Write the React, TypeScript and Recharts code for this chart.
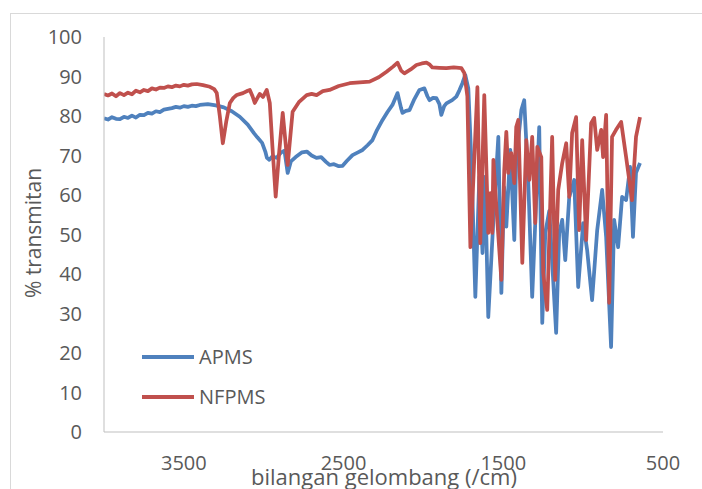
import React from "react";
import { LineChart, Line, XAxis, YAxis } from "recharts";

// wavenumber (cm-1) and % transmittance
const apmsWave = [
  4000, 3975, 3950, 3925, 3900, 3875, 3850, 3825, 3800, 3775, 3750, 3725, 3700, 3675, 3650, 3625,
  3600, 3575, 3550, 3525, 3500, 3475, 3450, 3425, 3400, 3350, 3300, 3250,
  3200, 3150, 3100, 3060, 3040, 3010, 2990, 2980, 2965, 2945, 2920, 2890, 2870, 2850, 2830, 2800,
  2760, 2730, 2700, 2670, 2640, 2610, 2588, 2560, 2530, 2506, 2480, 2444, 2410, 2381, 2350, 2319,
  2290, 2256, 2225, 2194, 2162, 2140, 2131, 2110, 2087, 2060, 2025, 1994, 1975, 1962, 1940, 1919,
  1900, 1888, 1870, 1856, 1820, 1794, 1775, 1756, 1738, 1719, 1700, 1675, 1650, 1630, 1615, 1594,
  1562, 1531, 1512, 1495, 1481, 1456, 1431, 1419, 1387, 1369, 1344, 1319, 1275, 1256, 1237, 1212, 1169,
  1150, 1131, 1112, 1087, 1056, 1031, 1000, 975, 944, 912, 881, 856, 825, 806, 781, 756,
  731, 706, 688, 669, 644,
];
const apmsT = [
  79.4, 79.1, 79.7, 79.3, 79.2, 79.8, 79.5, 80.1, 79.6, 80.3, 80.2, 80.8, 80.6, 81.2, 81.0, 81.6,
  81.8, 82.0, 82.3, 82.1, 82.5, 82.3, 82.6, 82.5, 82.8, 83.0, 82.7, 82.2,
  81.2, 79.8, 77.8, 75.6, 74.6, 73.2, 71.0, 69.4, 68.9, 69.8, 69.4, 70.8, 71.2, 65.6, 68.5, 69.6,
  70.8, 71.0, 70.0, 69.4, 69.6, 68.4, 67.6, 67.8, 67.3, 67.4, 68.6, 70.1, 70.8, 71.4, 72.6, 73.9,
  76.5, 79.0, 81.0, 82.8, 85.8, 82.0, 80.8, 81.3, 81.5, 84.0, 86.6, 87.0, 85.0, 84.0, 84.6, 84.5,
  83.0, 80.3, 82.5, 83.2, 84.0, 84.9, 86.5, 88.3, 90.4, 87.0, 68.9, 34.2, 64.6, 45.3, 64.6, 29.1,
  53.7, 74.7, 35.2, 62.0, 52.0, 71.4, 48.6, 68.9, 81.5, 84.0, 63.8, 34.2, 77.2, 27.6, 50.4, 56.0, 25.1,
  50.4, 53.7, 43.5, 59.5, 63.8, 36.7, 52.9, 46.1, 33.4, 51.1, 61.3, 49.4, 21.5, 53.7, 46.8, 59.5,
  58.7, 67.1, 49.4, 65.6, 68.1,
];

const nfpmsWave = [
  4000, 3975, 3950, 3925, 3900, 3875, 3850, 3825, 3800, 3775, 3750, 3725, 3700, 3675, 3650, 3625,
  3600, 3575, 3550, 3525, 3500, 3475, 3450, 3419, 3380, 3337, 3310,
  3294, 3275, 3256, 3235, 3212, 3190, 3169, 3130, 3100, 3087, 3070, 3056, 3040, 3025, 3005, 2981,
  2962, 2945, 2925, 2905, 2881, 2850, 2819, 2780, 2731, 2700, 2669, 2630, 2588, 2530, 2462, 2400,
  2337, 2280, 2231, 2190, 2162, 2140, 2119, 2080, 2044, 2010, 1981, 1960, 1944, 1900, 1856, 1810,
  1762, 1744, 1725, 1706, 1662, 1644, 1619, 1594, 1581, 1569, 1562, 1540, 1512, 1494, 1481, 1469,
  1450, 1431, 1419, 1406, 1381, 1356, 1337, 1319, 1300, 1287, 1262, 1250, 1225, 1194, 1175, 1156,
  1131, 1106, 1087, 1069, 1044, 1025, 1006, 981, 950, 931, 912, 887, 875, 856, 837, 819,
  794, 762, 731, 694, 669, 644,
];
const nfpmsT = [
  85.6, 85.2, 85.7, 85.0, 85.8, 85.3, 85.9, 85.5, 86.4, 86.0, 86.6, 86.3, 87.0, 86.7, 87.2, 87.1,
  87.5, 87.3, 87.7, 87.5, 87.9, 87.7, 88.0, 88.1, 87.8, 87.4, 86.8,
  85.8, 80.0, 73.1, 78.5, 83.3, 84.6, 85.3, 85.8, 86.4, 86.6, 85.0, 83.3, 84.5, 85.6, 84.8, 86.6,
  83.3, 72.0, 59.6, 70.0, 80.8, 67.6, 81.1, 83.5, 85.3, 85.6, 85.3, 86.3, 86.6, 87.6, 88.3, 88.5,
  88.7, 89.8, 91.2, 92.5, 93.5, 91.5, 90.8, 91.8, 92.9, 93.3, 93.5, 93.0, 92.3, 92.2, 92.1, 92.3,
  92.1, 90.9, 85.0, 46.8, 87.3, 47.8, 85.3, 50.4, 60.5, 50.4, 68.9, 55.0, 38.5, 66.3, 76.0, 65.6,
  70.6, 63.0, 77.2, 79.0, 42.8, 73.9, 63.8, 74.7, 52.9, 72.2, 69.6, 40.3, 30.9, 74.7, 38.5, 61.3,
  68.1, 73.1, 59.5, 75.7, 79.7, 51.1, 73.9, 48.6, 78.2, 79.5, 71.4, 76.5, 69.6, 80.3, 32.7, 74.7,
  76.5, 78.5, 69.6, 58.7, 74.7, 79.7,
];

const yTicks = [0, 10, 20, 30, 40, 50, 60, 70, 80, 90, 100];
const xTicks = [500, 1500, 2500, 3500];

const apms = apmsWave.map((w, i) => ({ w, t: apmsT[i] }));
const nfpms = nfpmsWave.map((w, i) => ({ w, t: nfpmsT[i] }));

const BLUE = "#4F81BD";
const RED = "#C0504D";
const FONT = "'Open Sans', sans-serif";
const tickStyle = { fill: "#595959", fontSize: 20, fontFamily: FONT };

export default function App() {
  return (
    <div
      style={{
        position: "absolute",
        left: 0,
        top: 0,
        width: 702,
        height: 489,
        overflow: "hidden",
        background: "#fff",
        fontFamily: FONT,
      }}
    >
      <div
        style={{
          position: "absolute",
          left: 10,
          top: 13,
          width: 720,
          height: 500,
          border: "1px solid #D9D9D9",
        }}
      />
      <div style={{ position: "absolute", left: 0, top: 0 }}>
        <LineChart width={702} height={489} margin={{ top: 37, right: 39, bottom: 27, left: 44 }}>
          <XAxis
            dataKey="w"
            type="number"
            domain={[500, 4000]}
            reversed
            ticks={xTicks}
            allowDataOverflow
            height={30}
            tickLine={false}
            tickSize={8}
            tickMargin={16}
            stroke="#BFBFBF"
            tick={tickStyle}
          />
          <YAxis
            type="number"
            domain={[0, 100]}
            ticks={yTicks}
            width={60}
            tickLine={false}
            tickSize={10}
            tickMargin={12}
            stroke="#BFBFBF"
            tick={tickStyle}
          />
          <Line
            data={apms}
            dataKey="t"
            type="linear"
            stroke={BLUE}
            strokeWidth={3.75}
            strokeLinejoin="round"
            dot={false}
            isAnimationActive={false}
          />
          <Line
            data={nfpms}
            dataKey="t"
            type="linear"
            stroke={RED}
            strokeWidth={3.75}
            strokeLinejoin="round"
            dot={false}
            isAnimationActive={false}
          />
        </LineChart>
      </div>

      {/* axis titles */}
      <div
        style={{
          position: "absolute",
          left: 384,
          top: 463,
          transform: "translateX(-50%)",
          whiteSpace: "nowrap",
          fontSize: 22,
          lineHeight: "26px",
          color: "#595959",
        }}
      >
        bilangan gelombang (/cm)
      </div>
      <div
        style={{
          position: "absolute",
          left: 33,
          top: 233,
          transform: "translate(-50%, -50%) rotate(-90deg)",
          whiteSpace: "nowrap",
          fontSize: 21,
          lineHeight: "24px",
          color: "#595959",
        }}
      >
        % transmitan
      </div>

      {/* legend */}
      {[
        { name: "APMS", color: BLUE, y: 357 },
        { name: "NFPMS", color: RED, y: 397 },
      ].map((item) => (
        <div key={item.name}>
          <div
            style={{
              position: "absolute",
              left: 142,
              top: item.y - 2,
              width: 52,
              height: 4,
              background: item.color,
            }}
          />
          <div
            style={{
              position: "absolute",
              left: 199,
              top: item.y - 13,
              fontSize: 20,
              lineHeight: "26px",
              color: "#595959",
            }}
          >
            {item.name}
          </div>
        </div>
      ))}
    </div>
  );
}
